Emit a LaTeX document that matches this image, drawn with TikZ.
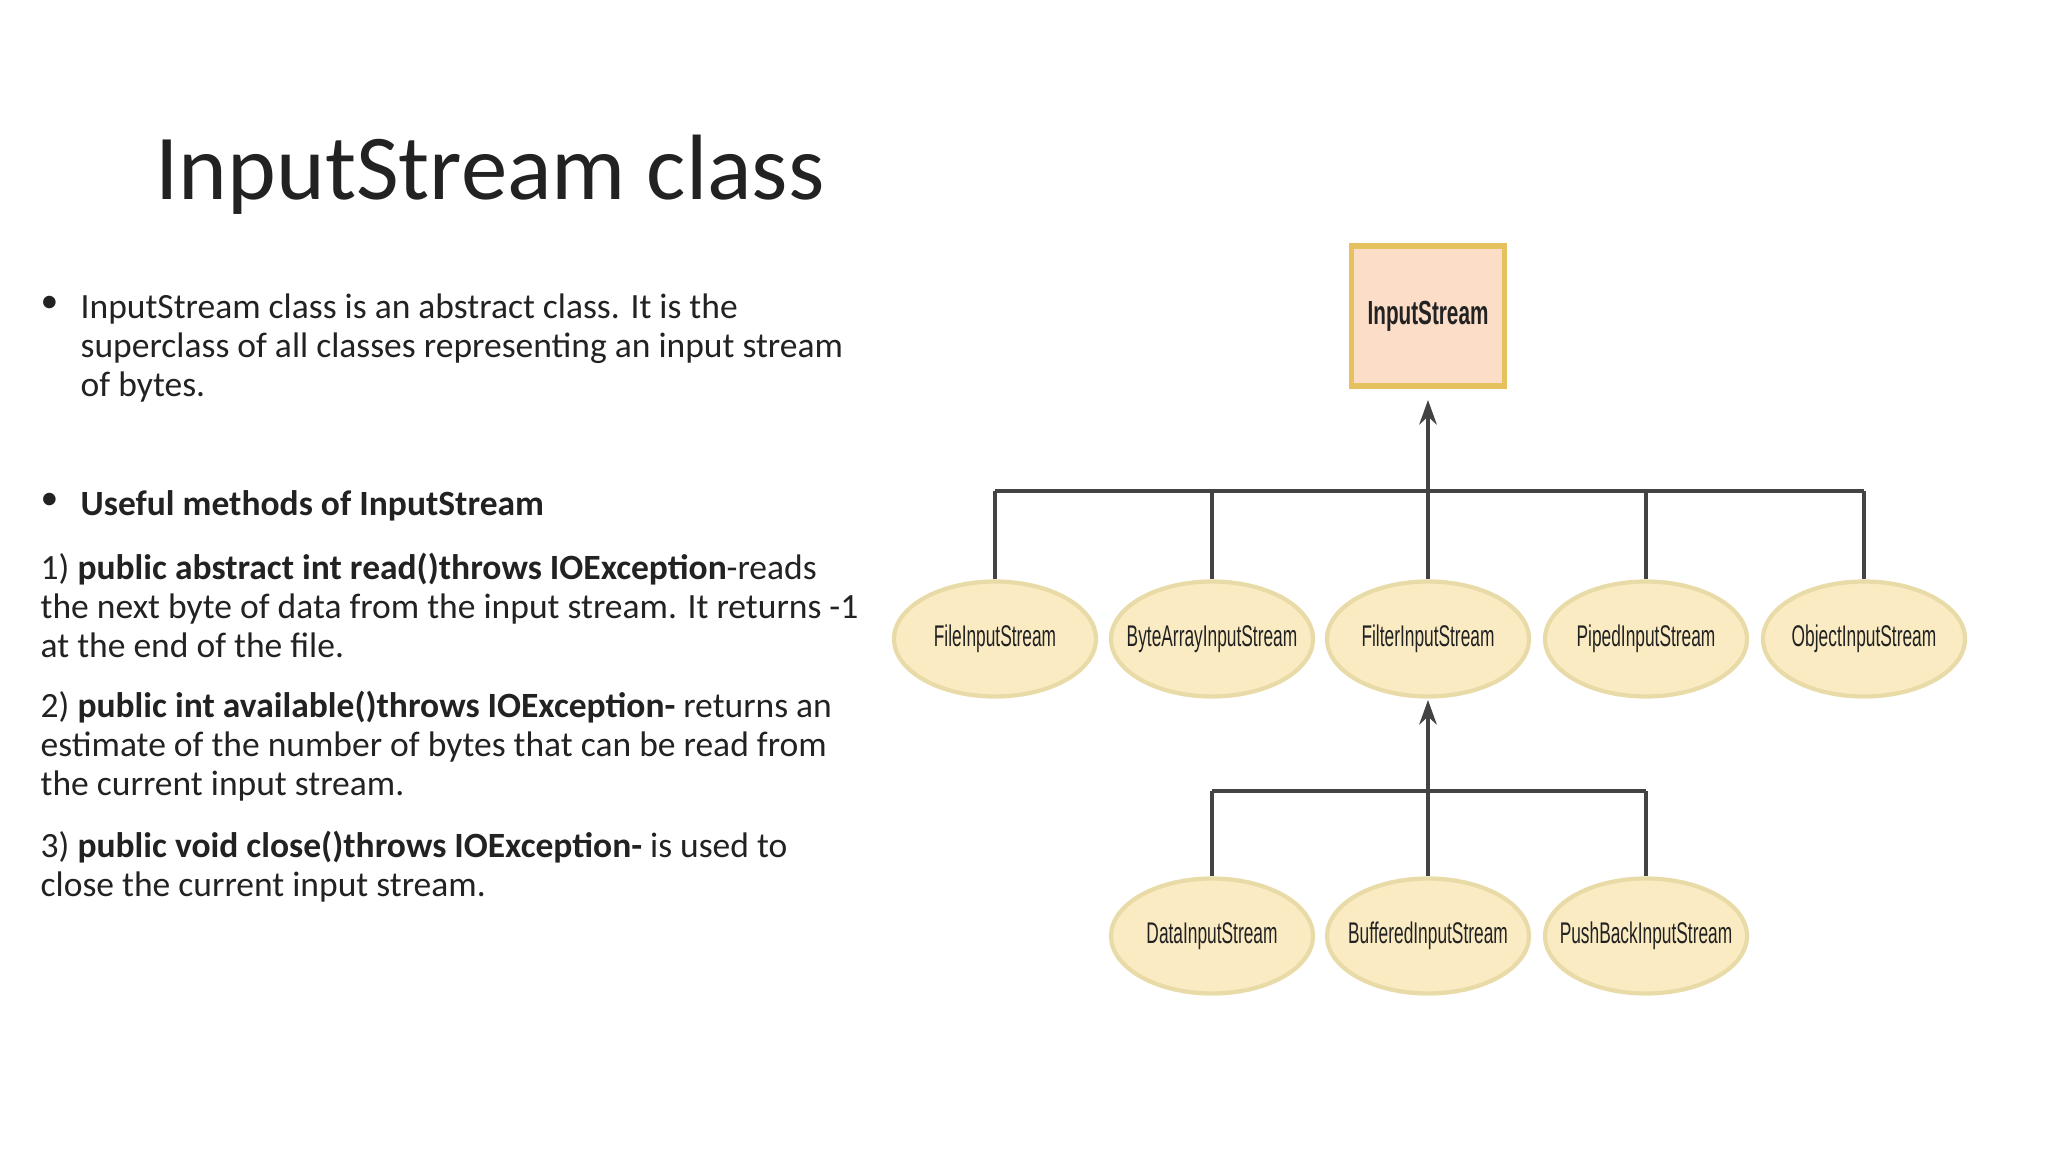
\documentclass[tikz,border=0pt]{standalone}
\usepackage{fontspec}
\setmainfont{Carlito}
\newfontfamily\diagfont{Liberation Sans}
\usetikzlibrary{shapes.geometric,arrows.meta}
\definecolor{boxfill}{HTML}{FBDDC8}
\definecolor{boxline}{HTML}{E6C25E}
\definecolor{ellfill}{HTML}{FAEBC3}
\definecolor{ellline}{HTML}{E9DBA8}
\definecolor{txt}{HTML}{222222}
\newlength{\pxu}\setlength{\pxu}{0.01cm}
\tikzset{
  cls/.style={ellipse,draw=ellline,line width=1.2pt,fill=ellfill,minimum width=202\pxu,minimum height=115\pxu,inner xsep=-12pt,inner ysep=0pt,
    font=\diagfont\fontsize{8.5}{10}\selectfont,text=txt},
  wire/.style={draw=txt!85,line width=0.9pt},
  arr/.style={wire,-{Stealth[length=7pt,width=5pt]}},
  body/.style={anchor=north west,inner sep=0pt,font=\fontsize{10.1}{11.1}\selectfont,text=txt,align=left}
}
\begin{document}
\begin{tikzpicture}[x=0.01cm,y=-0.01cm]
\useasboundingbox (0,0) rectangle (2048,1152);
\node[anchor=base,inner sep=0pt,font=\fontsize{26.4}{32}\selectfont,text=txt] (title) at (490,200) {InputStream class};
% bullets
\node[body] (b1) at (40,296) {\textbullet};
\node[body] (t1) at (80,293) {InputStream class is an abstract class. It is the\\superclass of all classes representing an input stream\\of bytes.};
\node[body] (b2) at (40,493) {\textbullet};
\node[body] (t2) at (80,490) {\textbf{Useful methods of InputStream}};
\node[body] (m1) at (40,552) {1) \textbf{public abstract int read()throws IOException}-reads\\the next byte of data from the input stream. It returns -1\\at the end of the file.};
\node[body] (m2) at (40,690) {2) \textbf{public int available()throws IOException-} returns an\\estimate of the number of bytes that can be read from\\the current input stream.};
\node[body] (m3) at (40,830) {3) \textbf{public void close()throws IOException-} is used to\\close the current input stream.};
% diagram
\node[draw=boxline,line width=1.5pt,fill=boxfill,minimum width=153\pxu,minimum height=140\pxu,inner sep=0pt,
  font=\diagfont\fontsize{9.5}{11}\selectfont,text=txt] (is) at (1428,316) {\scalebox{0.62}[1]{\textbf{InputStream}}};
\foreach \n/\x/\t in {fis/995/FileInputStream,bais/1212/ByteArrayInputStream,filt/1428/FilterInputStream,pis/1646/PipedInputStream,ois/1864/ObjectInputStream}
  \node[cls] (\n) at (\x,639) {\scalebox{0.58}[1]{\t}};
\foreach \n/\x/\t in {dis/1212/DataInputStream,bis/1428/BufferedInputStream,pbis/1646/PushBackInputStream}
  \node[cls] (\n) at (\x,936) {\scalebox{0.58}[1]{\t}};
\coordinate (bus1l) at (995,491);
\coordinate (bus1r) at (1864,491);
\coordinate (tip1) at (1428,400);
\draw[wire] (bus1l) -- (bus1r);
\draw[arr] (filt.north) -- (tip1);
\foreach \n in {fis,bais,pis,ois} \draw[wire] (\n.north) -- (\n.north |- bus1l);
\coordinate (bus2l) at (1212,791);
\coordinate (bus2r) at (1646,791);
\coordinate (tip2) at (1428,700);
\draw[wire] (bus2l) -- (bus2r);
\draw[arr] (bis.north) -- (tip2);
\foreach \n in {dis,pbis} \draw[wire] (\n.north) -- (\n.north |- bus2l);
\end{tikzpicture}
\end{document}
